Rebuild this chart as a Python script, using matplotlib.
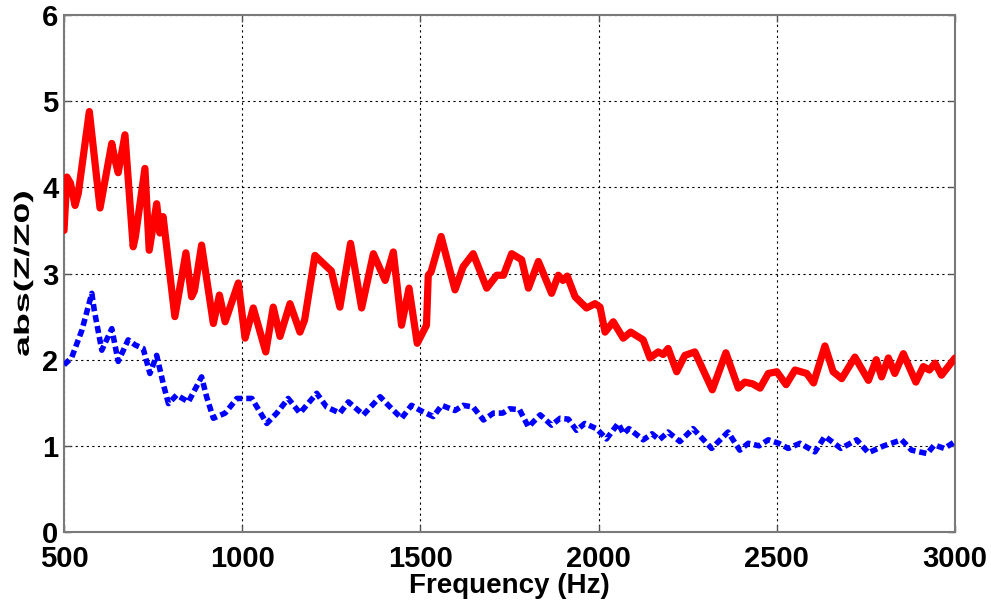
import matplotlib
matplotlib.use("Agg")
import matplotlib.pyplot as plt
from matplotlib.patheffects import AbstractPathEffect
from matplotlib.transforms import Affine2D

# Normalised impedance magnitude, two measurement configurations
freq_red = [500, 508, 518, 531, 540, 571, 601, 634, 643, 652, 671, 694, 700, 727, 739,
            760, 769, 778, 811, 842, 858, 866, 886, 919, 936, 952, 989, 1008, 1031, 1066,
            1087, 1106, 1134, 1162, 1175, 1204, 1237, 1250, 1274, 1304, 1335, 1368, 1401,
            1424, 1447, 1468, 1491, 1517, 1522, 1530, 1558, 1597, 1620, 1648, 1686, 1714,
            1733, 1756, 1784, 1803, 1831, 1868, 1887, 1900, 1912, 1934, 1966, 1990, 2004,
            2018, 2041, 2069, 2090, 2125, 2144, 2167, 2181, 2195, 2219, 2242, 2270, 2319,
            2357, 2392, 2410, 2432, 2453, 2476, 2500, 2526, 2551, 2584, 2603, 2635, 2658,
            2682, 2719, 2757, 2779, 2794, 2813, 2831, 2855, 2890, 2911, 2928, 2944, 2962,
            2981, 3000]
z_red = [3.50, 4.12, 4.05, 3.79, 3.93, 4.88, 3.76, 4.51, 4.32, 4.17, 4.61, 3.31, 3.42, 4.22,
         3.27, 3.81, 3.47, 3.66, 2.50, 3.24, 2.73, 2.80, 3.33, 2.42, 2.75, 2.44, 2.89, 2.25,
         2.60, 2.09, 2.61, 2.27, 2.65, 2.32, 2.46, 3.21, 3.08, 3.03, 2.61, 3.35, 2.60, 3.23,
         2.92, 3.25, 2.40, 2.83, 2.19, 2.40, 2.98, 3.02, 3.43, 2.81, 3.08, 3.23, 2.83, 2.98,
         2.98, 3.23, 3.16, 2.83, 3.14, 2.77, 2.98, 2.92, 2.97, 2.73, 2.60, 2.65, 2.61,
         2.32, 2.44, 2.25, 2.32, 2.23, 2.02, 2.09, 2.06, 2.13, 1.86, 2.05, 2.09, 1.65,
         2.08, 1.67, 1.74, 1.72, 1.67, 1.84, 1.86, 1.71, 1.88, 1.84, 1.73, 2.16, 1.86,
         1.78, 2.03, 1.76, 2.00, 1.80, 2.02, 1.84, 2.07, 1.74, 1.92, 1.88, 1.96, 1.82,
         1.92, 2.02]

freq_blue = [500, 521, 550, 578, 585, 606, 634, 652, 680, 700, 722, 741, 760, 779, 793,
             816, 849, 886, 900, 919, 952, 985, 1027, 1069, 1097, 1129, 1162, 1209, 1237,
             1274, 1298, 1340, 1387, 1415, 1447, 1475, 1500, 1536, 1560, 1597, 1620, 1648,
             1677, 1705, 1731, 1750, 1778, 1803, 1836, 1868, 1892, 1915, 1938, 1961, 1994,
             2022, 2055, 2070, 2085, 2125, 2150, 2170, 2195, 2228, 2265, 2317, 2363, 2396,
             2420, 2450, 2476, 2505, 2532, 2565, 2607, 2635, 2680, 2724, 2757, 2800, 2850,
             2878, 2922, 2942, 2970, 3000]
z_blue = [1.94, 2.02, 2.34, 2.77, 2.57, 2.11, 2.36, 1.98, 2.23, 2.17, 2.13, 1.84, 2.05, 1.71,
          1.49, 1.59, 1.51, 1.80, 1.57, 1.32, 1.38, 1.55, 1.55, 1.26, 1.38, 1.55, 1.38, 1.61,
          1.45, 1.38, 1.51, 1.36, 1.57, 1.45, 1.32, 1.47, 1.41, 1.34, 1.47, 1.41, 1.47, 1.45,
          1.30, 1.38, 1.38, 1.43, 1.42, 1.22, 1.36, 1.24, 1.32, 1.31, 1.18, 1.26, 1.20,
          1.08, 1.26, 1.14, 1.20, 1.07, 1.14, 1.07, 1.16, 1.05, 1.20, 0.97, 1.16, 0.95,
          1.03, 1.00, 1.07, 1.03, 0.97, 1.03, 0.93, 1.11, 0.97, 1.07, 0.92, 1.00, 1.07,
          0.95, 0.91, 1.01, 0.97, 1.05]

x_ticks = [500, 1000, 1500, 2000, 2500, 3000]
y_ticks = [0, 1, 2, 3, 4, 5, 6]


class StretchAlongBaseline(AbstractPathEffect):
    """Widen glyphs along the text baseline, keeping the string centred."""

    def __init__(self, factor):
        super().__init__()
        self._factor = factor

    def draw_path(self, renderer, gc, tpath, affine, rgbFace=None):
        ext = tpath.get_extents()
        cx = 0.5 * (ext.x0 + ext.x1)
        stretch = Affine2D().translate(-cx, 0).scale(self._factor, 1).translate(cx, 0)
        renderer.draw_path(gc, tpath, stretch + affine, rgbFace)


plt.rcParams['font.family'] = ['Liberation Sans', 'DejaVu Sans']
plt.rcParams['font.weight'] = 'bold'

fig = plt.figure(figsize=(9.91, 6.01), dpi=100)
ax = fig.add_axes([0.0646, 0.1148, 0.8991, 0.8602])

ax.plot(freq_red, z_red, color='#ff0000', lw=5.2, solid_joinstyle='round',
        solid_capstyle='round', zorder=3)
ax.plot(freq_blue, z_blue, color='#0000ff', lw=4.0, linestyle=(0, (1.3, 0.7)),
        dash_capstyle='butt', zorder=3)

ax.set_xlim(500, 3000)
ax.set_ylim(0, 6)
ax.set_xticks(x_ticks)
ax.set_yticks(y_ticks)
ax.grid(True, color='black', linestyle=(0, (2, 3)), linewidth=0.8)
ax.set_axisbelow(True)

for s in ax.spines.values():
    s.set_color('#7a7a7a')
    s.set_linewidth(1.5)

ax.tick_params(direction='in', length=5, width=1, colors='#555555',
               top=True, right=True, labelsize=21, labelcolor='black')
ax.tick_params(axis='x', pad=9)
ax.tick_params(axis='y', pad=4)
for lab in ax.get_xticklabels() + ax.get_yticklabels():
    lab.set_fontweight('bold')

ax.set_xlabel('Frequency (Hz)', fontsize=20, fontweight='bold', labelpad=0)
ylab = ax.set_ylabel('abs(Z/Z0)', fontsize=15, fontweight='bold')
ylab.set_path_effects([StretchAlongBaseline(1.8)])
ax.yaxis.set_label_coords(-0.035, 0.5)

fig.savefig('out.png', dpi=100, facecolor='white')
